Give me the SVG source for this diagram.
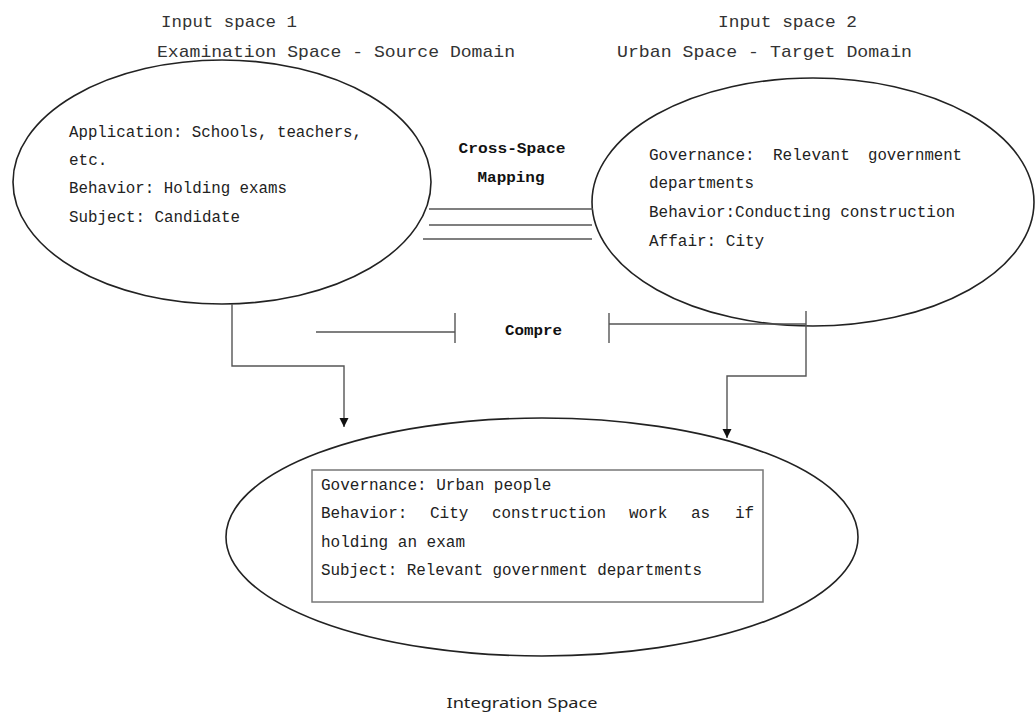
<svg xmlns="http://www.w3.org/2000/svg" width="1036" height="714" viewBox="0 0 1036 714">
<style>
.ell{fill:none;stroke:#222;stroke-width:1.6}
.box{fill:none;stroke:#777;stroke-width:1.5}
.con{fill:none;stroke:#555;stroke-width:1.4}
.t{font-family:"Liberation Mono","DejaVu Sans Mono",monospace;font-size:16px;fill:#222}
.h{font-family:"Liberation Mono","DejaVu Sans Mono",monospace;font-size:17px;fill:#333}
.b{font-family:"Liberation Mono","DejaVu Sans Mono",monospace;font-size:15px;font-weight:bold;fill:#111}
.s{font-family:"Noto Sans","Open Sans",sans-serif;font-size:15px;fill:#222}
</style>
<defs>
<marker id="arr" markerWidth="10" markerHeight="10" refX="9" refY="5" orient="auto" markerUnits="userSpaceOnUse">
<path d="M0,0.5 L9,5 L0,9.5 z" fill="#111"/>
</marker>
</defs>
<rect width="1036" height="714" fill="#fff"/>
<g id="titles">
<text class="h" x="161" y="27" textLength="136" lengthAdjust="spacingAndGlyphs">Input space 1</text>
<text class="h" x="157" y="57" textLength="358" lengthAdjust="spacingAndGlyphs">Examination Space - Source Domain</text>
<text class="h" x="718" y="27" textLength="139" lengthAdjust="spacingAndGlyphs">Input space 2</text>
<text class="h" x="617" y="57" textLength="295" lengthAdjust="spacingAndGlyphs">Urban Space - Target Domain</text>
</g>
<g id="input-space-1">
<ellipse class="ell" cx="222" cy="182" rx="209" ry="122"/>
<text class="t" x="69" y="137" textLength="293" lengthAdjust="spacingAndGlyphs">Application: Schools, teachers,</text>
<text class="t" x="69" y="165">etc.</text>
<text class="t" x="69" y="193" textLength="218" lengthAdjust="spacingAndGlyphs">Behavior: Holding exams</text>
<text class="t" x="69" y="222" textLength="171" lengthAdjust="spacingAndGlyphs">Subject: Candidate</text>
</g>
<g id="input-space-2">
<ellipse class="ell" cx="813" cy="202" rx="221" ry="124"/>
<text class="t" x="649" y="160">Governance:</text>
<text class="t" x="773" y="160">Relevant</text>
<text class="t" x="868" y="160" textLength="94" lengthAdjust="spacingAndGlyphs">government</text>
<text class="t" x="649" y="188" textLength="105" lengthAdjust="spacingAndGlyphs">departments</text>
<text class="t" x="649" y="217" textLength="306" lengthAdjust="spacingAndGlyphs">Behavior:Conducting construction</text>
<text class="t" x="649" y="246">Affair: City</text>
</g>
<g id="cross-space-mapping">
<text class="b" x="512" y="153" text-anchor="middle" textLength="107" lengthAdjust="spacingAndGlyphs">Cross-Space</text>
<text class="b" x="511" y="182" text-anchor="middle" textLength="67" lengthAdjust="spacingAndGlyphs">Mapping</text>
</g>
<g id="compare">
<text class="b" x="505" y="335" textLength="57" lengthAdjust="spacingAndGlyphs">Compre</text>
</g>
<g id="integration-space">
<ellipse class="ell" cx="542" cy="537" rx="316" ry="119"/>
<rect class="box" x="312" y="470" width="451" height="132"/>
<text class="t" x="321" y="490">Governance: Urban people</text>
<text class="t" x="321" y="518">Behavior:</text>
<text class="t" x="430" y="518">City</text>
<text class="t" x="492" y="518" textLength="114" lengthAdjust="spacingAndGlyphs">construction</text>
<text class="t" x="629" y="518">work</text>
<text class="t" x="691" y="518">as</text>
<text class="t" x="735" y="518">if</text>
<text class="t" x="321" y="547">holding an exam</text>
<text class="t" x="321" y="575" textLength="381" lengthAdjust="spacingAndGlyphs">Subject: Relevant government departments</text>
<text class="s" x="522" y="708" text-anchor="middle" textLength="151" lengthAdjust="spacingAndGlyphs">Integration Space</text>
</g>
<g id="connectors">
<line class="con" x1="429" y1="209" x2="593" y2="209"/>
<line class="con" x1="429" y1="225" x2="592" y2="225"/>
<line class="con" x1="423" y1="239" x2="592" y2="239"/>
<line class="con" x1="316" y1="332" x2="455" y2="332"/>
<line class="con" x1="455" y1="313" x2="455" y2="343"/>
<line class="con" x1="609" y1="313" x2="609" y2="343"/>
<line class="con" x1="609" y1="324" x2="806" y2="324"/>
<path class="con" d="M232,304 V366 H344 V427" marker-end="url(#arr)"/>
<path class="con" d="M806,311 V376 H727 V438" marker-end="url(#arr)"/>
</g>
</svg>
